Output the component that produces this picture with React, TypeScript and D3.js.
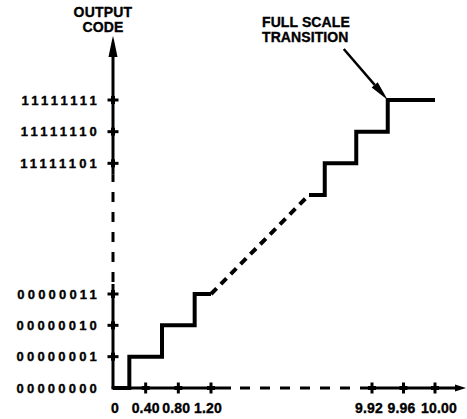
import React from "react";
import * as d3 from "d3";

// ---- data ----
const lowCodes = [0, 1, 2, 3];
const lowCodeLabels = ["00000000", "00000001", "00000010", "00000011"];
const highCodes = [253, 254, 255];
const highCodeLabels = ["11111101", "11111110", "11111111"];

const lowXTicks = [0.4, 0.8, 1.2];
const lowXLabels = ["0.40", "0.80", "1.20"];
const highXTicks = [9.92, 9.96, 10.0];
const highXLabels = ["9.92", "9.96", "10.00"];

// staircase (input voltage, output code) – step after each point
const lowSteps: [number, number][] = [
  [0, 0],
  [0.2, 1],
  [0.6, 2],
  [1.0, 3],
  [1.2, 3],
];
const highSteps: [number, number][] = [
  [9.84, 252],
  [9.86, 253],
  [9.9, 254],
  [9.94, 255],
  [10.0, 255],
];
const fullScaleTransition: [number, number] = [9.94, 255];

const W = 467;
const H = 419;
const FONT = "'Liberation Sans', Arial, Helvetica, sans-serif";

export default function App() {
  // broken (piecewise) scales
  const x = d3.scaleLinear().domain([0, 1.2, 9.84, 10.0]).range([113, 211, 309, 435]);
  const y = d3.scaleLinear().domain([0, 3, 252, 255]).range([388, 294, 195, 100]);

  const stepLine = d3
    .line<[number, number]>()
    .x((d) => x(d[0]))
    .y((d) => y(d[1]))
    .curve(d3.curveStepAfter);

  const x0 = x(0);
  const y0 = y(0);

  const lowEnd = lowSteps[lowSteps.length - 1];
  const highStart = highSteps[0];

  // axis break positions
  const yLowSolidTop = y(3) - 10;
  const yHighSolidBottom = y(253) + 11;
  const yArrowBase = 57;
  const yArrowTip = 36;
  const xLowSolidEnd = x(1.2) + 20;
  const xHighSolidStart = x(9.92) - 12;
  const xArrowBase = 455;
  const xArrowTip = 466;

  // annotation arrow
  const tipX = x(fullScaleTransition[0]);
  const tipY = y(fullScaleTransition[1]);
  const startX = tipX - 44;
  const startY = tipY - 51;
  const ang = Math.atan2(tipY - startY, tipX - startX);
  const hl = 20;
  const hw = 4;
  const bx = tipX - hl * Math.cos(ang);
  const by = tipY - hl * Math.sin(ang);
  const px = -Math.sin(ang);
  const py = Math.cos(ang);

  const stroke = "#000";
  const textStroke = { stroke: "#000", strokeWidth: 0.35 };

  return (
    <svg
      width={W}
      height={H}
      style={{ position: "absolute", left: 0, top: 0, background: "#fff" }}
      fontFamily={FONT}
      fontWeight="bold"
    >
      {/* Y axis */}
      <line x1={x0} y1={y0} x2={x0} y2={yLowSolidTop} stroke={stroke} strokeWidth={3} />
      <line
        x1={x0}
        y1={yLowSolidTop}
        x2={x0}
        y2={yHighSolidBottom}
        stroke={stroke}
        strokeWidth={3}
        strokeDasharray="10,10"
        strokeDashoffset={-2}
      />
      <line x1={x0} y1={yHighSolidBottom} x2={x0} y2={yArrowBase} stroke={stroke} strokeWidth={3} />
      <polygon
        points={`${x0 - 4.5},${yArrowBase} ${x0 + 4.5},${yArrowBase} ${x0 + 1},${yArrowTip + 4} ${x0},${yArrowTip} ${x0 - 1},${yArrowTip + 4}`}
        fill={stroke}
      />

      {/* X axis */}
      <line x1={x0 - 1.5} y1={y0} x2={xLowSolidEnd} y2={y0} stroke={stroke} strokeWidth={3} />
      <line
        x1={xLowSolidEnd}
        y1={y0}
        x2={xHighSolidStart}
        y2={y0}
        stroke={stroke}
        strokeWidth={3}
        strokeDasharray="10,10"
        strokeDashoffset={-9}
      />
      <line x1={xHighSolidStart} y1={y0} x2={xArrowBase} y2={y0} stroke={stroke} strokeWidth={3} />
      <polygon
        points={`${xArrowBase},${y0 - 3.5} ${xArrowBase},${y0 + 3.5} ${xArrowTip},${y0}`}
        fill={stroke}
      />

      {/* Y ticks and labels */}
      {lowCodes.concat(highCodes).map((c, i) => {
        const label = i < lowCodes.length ? lowCodeLabels[i] : highCodeLabels[i - lowCodes.length];
        return (
          <g key={"yt" + c}>
            {c !== 0 && (
              <>
                <line x1={x0 - 5.5} x2={x0 + 5.5} y1={y(c)} y2={y(c)} stroke={stroke} strokeWidth={3} />
                <line x1={x0} x2={x0} y1={y(c) - 4} y2={y(c) + 4} stroke={stroke} strokeWidth={4} />
              </>
            )}
            <text
              x={100}
              y={y(c) + 4.8}
              textAnchor="end"
              fontSize={13}
              letterSpacing={3.2}
              fill={stroke}
              {...textStroke}
            >
              {label}
            </text>
          </g>
        );
      })}

      {/* X ticks and labels */}
      {lowXTicks.concat(highXTicks).map((v, i) => {
        const label = i < lowXTicks.length ? lowXLabels[i] : highXLabels[i - lowXTicks.length];
        return (
          <g key={"xt" + v}>
            <line x1={x(v)} x2={x(v)} y1={y0 - 5.5} y2={y0 + 5.5} stroke={stroke} strokeWidth={3} />
            <line x1={x(v) - 4} x2={x(v) + 4} y1={y0} y2={y0} stroke={stroke} strokeWidth={4} />
            <text
              x={x(v) + (i === 1 ? -2 : 0) + (i === 2 ? -3 : 0) + (i === 5 ? 4 : 0) + (i === 3 ? -3 : 0) + (i === 4 ? -2 : 0)}
              y={413}
              textAnchor="middle"
              fontSize={14}
              letterSpacing={0.2}
              fill={stroke}
              {...textStroke}
            >
              {label}
            </text>
          </g>
        );
      })}
      <text x={x(0) + 2} y={413} textAnchor="middle" fontSize={14} fill={stroke} {...textStroke}>
        0
      </text>

      {/* staircase */}
      <path d={stepLine(lowSteps) || ""} fill="none" stroke={stroke} strokeWidth={4} strokeLinejoin="miter" />
      <path d={stepLine(highSteps) || ""} fill="none" stroke={stroke} strokeWidth={4} strokeLinejoin="miter" />
      <line
        x1={x(lowEnd[0])}
        y1={y(lowEnd[1])}
        x2={x(highStart[0])}
        y2={y(highStart[1])}
        stroke={stroke}
        strokeWidth={4}
        strokeDasharray="8,6"
      />

      {/* annotation */}
      <line x1={startX} y1={startY} x2={bx} y2={by} stroke={stroke} strokeWidth={2.5} />
      <polygon
        points={`${tipX},${tipY} ${bx + px * hw},${by + py * hw} ${bx - px * hw},${by - py * hw}`}
        fill={stroke}
      />
      <text x={262} y={27} fontSize={14} letterSpacing={0.1} fill={stroke} {...textStroke}>
        FULL SCALE
      </text>
      <text x={262} y={42} fontSize={14} letterSpacing={0.1} fill={stroke} {...textStroke}>
        TRANSITION
      </text>

      {/* axis title */}
      <text x={103} y={17} textAnchor="middle" fontSize={14} letterSpacing={0.2} fill={stroke} {...textStroke}>
        OUTPUT
      </text>
      <text x={103} y={32} textAnchor="middle" fontSize={14} letterSpacing={0.2} fill={stroke} {...textStroke}>
        CODE
      </text>
    </svg>
  );
}
